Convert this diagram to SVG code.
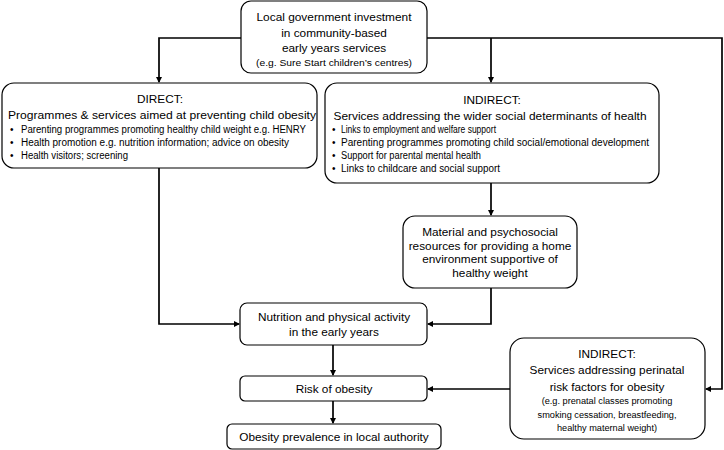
<svg xmlns="http://www.w3.org/2000/svg" width="724" height="450" viewBox="0 0 724 450">
<style>
.box{fill:#fff;stroke:#000;stroke-width:1.2}
.t{font-family:"Liberation Sans",Arial,sans-serif;font-size:11.8px;fill:#000;text-anchor:middle}
.s{font-family:"Liberation Sans",Arial,sans-serif;font-size:9.2px;fill:#000;text-anchor:middle}
.b{font-family:"Liberation Sans",Arial,sans-serif;font-size:10px;fill:#000}
.c{fill:none;stroke:#000;stroke-width:1.7}
</style>
<defs>
<marker id="ah" markerWidth="6" markerHeight="6" refX="5" refY="3" orient="auto" markerUnits="userSpaceOnUse">
<path d="M0,0 L6,3 L0,6 Z" fill="#000"/>
</marker>
</defs>
<g id="connectors">
<path class="c" d="M241,38 H159 V82" marker-end="url(#ah)"/>
<path class="c" d="M427,38 H722 V389 H706" marker-end="url(#ah)"/>
<path class="c" d="M491,38 V82" marker-end="url(#ah)"/>
<path class="c" d="M491,183 V215" marker-end="url(#ah)"/>
<path class="c" d="M491,288 V324 H428" marker-end="url(#ah)"/>
<path class="c" d="M159,168 V324 H239" marker-end="url(#ah)"/>
<path class="c" d="M333,345 V375" marker-end="url(#ah)"/>
<path class="c" d="M333,401 V423" marker-end="url(#ah)"/>
<path class="c" d="M510,389 H428" marker-end="url(#ah)"/>
</g>
<g id="top">
<rect class="box" x="241" y="1" width="186" height="72" rx="10"/>
<text class="t" x="334" y="21" textLength="155" lengthAdjust="spacingAndGlyphs">Local government investment</text>
<text class="t" x="334" y="37">in community-based</text>
<text class="t" x="334" y="52">early years services</text>
<text class="s" x="334" y="66" textLength="156" lengthAdjust="spacingAndGlyphs">(e.g. Sure Start children’s centres)</text>
</g>
<g id="direct">
<rect class="box" x="2" y="83" width="315" height="85" rx="12"/>
<text class="t" x="160" y="103">DIRECT:</text>
<text class="t" x="162" y="119" textLength="308" lengthAdjust="spacingAndGlyphs">Programmes &amp; services aimed at preventing child obesity</text>
<text class="b" x="10" y="133">•</text>
<text class="b" x="21" y="133" textLength="285" lengthAdjust="spacingAndGlyphs">Parenting programmes promoting healthy child weight e.g. HENRY</text>
<text class="b" x="10" y="146">•</text>
<text class="b" x="21" y="146" textLength="268" lengthAdjust="spacingAndGlyphs">Health promotion e.g. nutrition information; advice on obesity</text>
<text class="b" x="10" y="159">•</text>
<text class="b" x="21" y="159" textLength="107" lengthAdjust="spacingAndGlyphs">Health visitors; screening</text>
</g>
<g id="indirect">
<rect class="box" x="325" y="83" width="334" height="100" rx="12"/>
<text class="t" x="492" y="104">INDIRECT:</text>
<text class="t" x="490" y="120" textLength="313" lengthAdjust="spacingAndGlyphs">Services addressing the wider social determinants of health</text>
<text class="b" x="332" y="133">•</text>
<text class="b" x="341" y="133" textLength="155" lengthAdjust="spacingAndGlyphs">Links to employment and welfare support</text>
<text class="b" x="332" y="146">•</text>
<text class="b" x="341" y="146" textLength="308" lengthAdjust="spacingAndGlyphs">Parenting programmes promoting child social/emotional development</text>
<text class="b" x="332" y="159">•</text>
<text class="b" x="341" y="159" textLength="140" lengthAdjust="spacingAndGlyphs">Support for parental mental health</text>
<text class="b" x="332" y="172">•</text>
<text class="b" x="341" y="172" textLength="159" lengthAdjust="spacingAndGlyphs">Links to childcare and social support</text>
</g>
<g id="material">
<rect class="box" x="403" y="216" width="174" height="72" rx="12"/>
<text class="t" x="490" y="236">Material and psychosocial</text>
<text class="t" x="490" y="250">resources for providing a home</text>
<text class="t" x="490" y="263">environment supportive of</text>
<text class="t" x="490" y="277">healthy weight</text>
</g>
<g id="nutrition">
<rect class="box" x="240" y="303" width="187" height="42" rx="7"/>
<text class="t" x="334" y="321">Nutrition and physical activity</text>
<text class="t" x="334" y="336">in the early years</text>
</g>
<g id="risk">
<rect class="box" x="240" y="376" width="187" height="25" rx="5"/>
<text class="t" x="334" y="393">Risk of obesity</text>
</g>
<g id="prevalence">
<rect class="box" x="227" y="424" width="214" height="25" rx="5"/>
<text class="t" x="334" y="441">Obesity prevalence in local authority</text>
</g>
<g id="perinatal">
<rect class="box" x="510" y="338" width="195" height="101" rx="14"/>
<text class="t" x="607" y="358">INDIRECT:</text>
<text class="t" x="607" y="374">Services addressing perinatal</text>
<text class="t" x="607" y="391">risk factors for obesity</text>
<text class="s" x="607" y="404">(e.g. prenatal classes promoting</text>
<text class="s" x="607" y="418">smoking cessation, breastfeeding,</text>
<text class="s" x="607" y="431">healthy maternal weight)</text>
</g>
</svg>
